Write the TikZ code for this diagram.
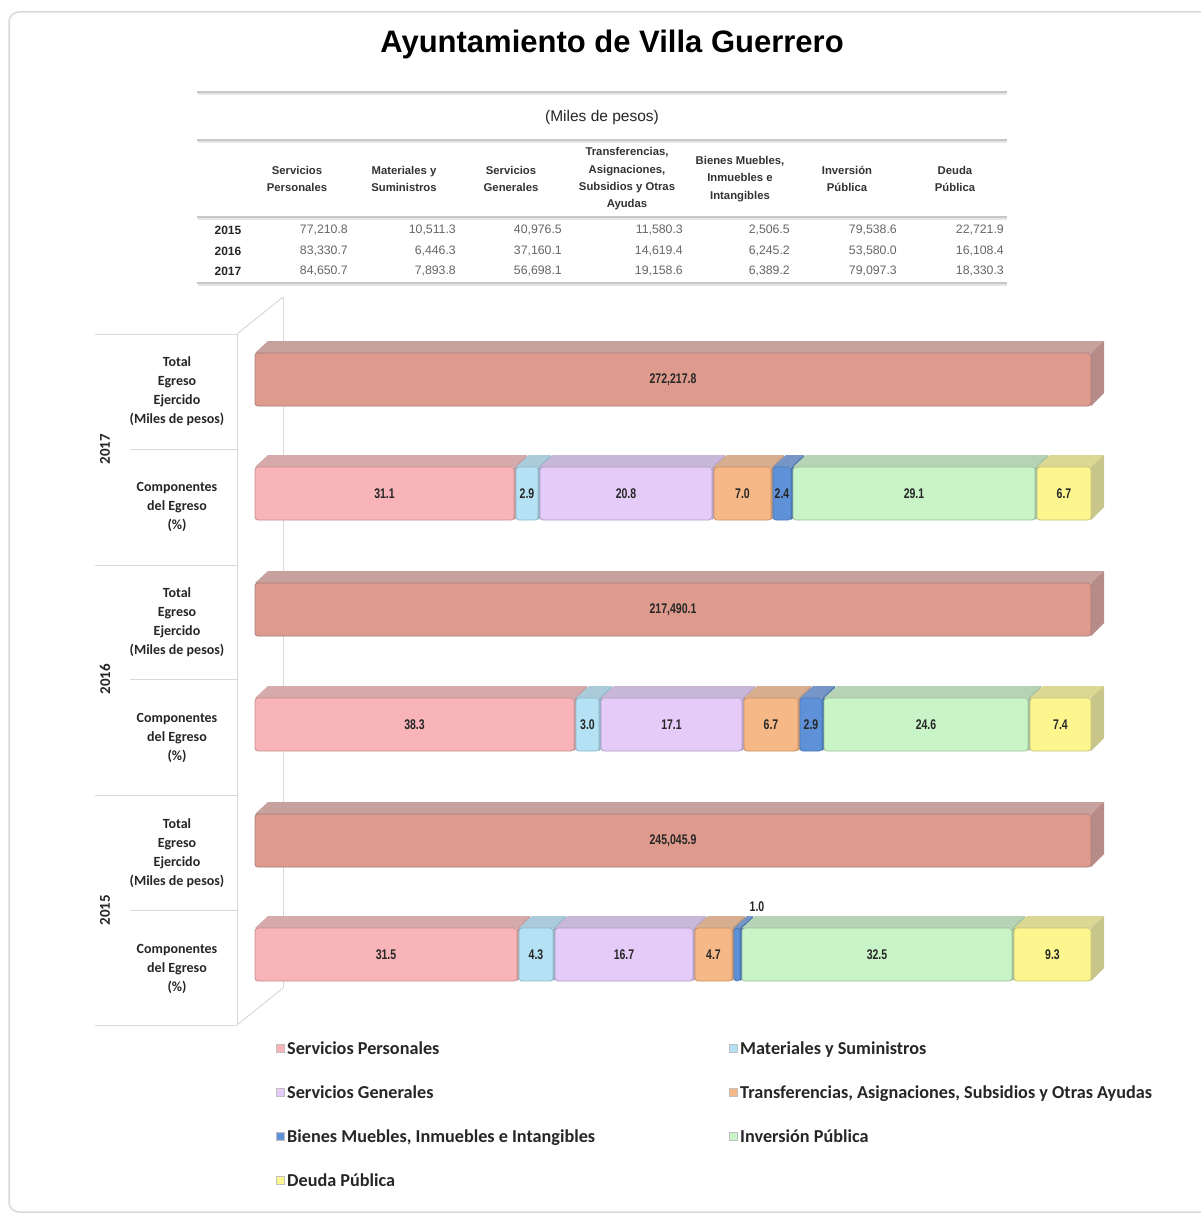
\documentclass[tikz,border=0pt]{standalone}
\usepackage{fontspec}
\setmainfont{Liberation Sans}
\newfontfamily\carl{Carlito}
\newfontfamily\narrowb[FakeStretch=0.75]{Liberation Sans}
\definecolor{totf}{HTML}{DE9B8D}\definecolor{tott}{HTML}{C6A19E}\definecolor{tots}{HTML}{B68B88}\definecolor{totb}{HTML}{A87C78}
\definecolor{spf}{HTML}{F8B4B8}\definecolor{spt}{HTML}{D6AAAB}\definecolor{sps}{HTML}{C69C9E}\definecolor{spb}{HTML}{C49092}
\definecolor{msf}{HTML}{B4E2F4}\definecolor{mst}{HTML}{A9CBDA}\definecolor{mss}{HTML}{94B8C8}\definecolor{msb}{HTML}{8FB6C6}
\definecolor{sgf}{HTML}{E5CBF8}\definecolor{sgt}{HTML}{C8B7D8}\definecolor{sgs}{HTML}{B8A6C8}\definecolor{sgb}{HTML}{B09BC4}
\definecolor{trf}{HTML}{F6B886}\definecolor{trt}{HTML}{D8AE90}\definecolor{trs}{HTML}{C49A7C}\definecolor{trb}{HTML}{C99062}
\definecolor{bmf}{HTML}{5E91D8}\definecolor{bmt}{HTML}{7596C6}\definecolor{bms}{HTML}{4A76B0}\definecolor{bmb}{HTML}{4A78B8}
\definecolor{ipf}{HTML}{C9F4C7}\definecolor{ipt}{HTML}{B6D3B5}\definecolor{ips}{HTML}{A0BFA0}\definecolor{ipb}{HTML}{9DBF9B}
\definecolor{dpf}{HTML}{FDF68F}\definecolor{dpt}{HTML}{DBD894}\definecolor{dps}{HTML}{C8C58A}\definecolor{dpb}{HTML}{C7C27A}
\definecolor{gridc}{HTML}{D9D9D9}
\tikzset{
  barlabel/.style={font=\narrowb\bfseries\fontsize{14}{14}\selectfont, text=black!85, inner sep=0pt},
  thead/.style={font=\bfseries\fontsize{11.3}{17.3}\selectfont, text=black!80, align=center, inner sep=0pt},
  tval/.style={font=\fontsize{12.3}{12}\selectfont, text=black!60, anchor=east, inner sep=0pt},
  tyear/.style={font=\bfseries\fontsize{12}{12}\selectfont, text=black!85, inner sep=0pt},
  rowlab/.style={font=\carl\bfseries\fontsize{14}{19.2}\selectfont, text=black!85, align=center, inner sep=0pt},
  yearlab/.style={font=\carl\bfseries\fontsize{15}{15}\selectfont, text=black!85, rotate=90, inner sep=0pt},
  legtext/.style={font=\carl\bfseries\fontsize{18.2}{18.2}\selectfont, text=black!85, anchor=base west, inner sep=0pt},
  legmark/.style={minimum size=8pt, inner sep=0pt, draw=black!25, line width=0.4pt},
  gline/.style={draw=gridc, line width=1pt},
  tline/.style={draw=black!22, line width=1.6pt},
}
% #1 label shift, #2 name, #3 x1, #4 x2, #5 y top of front face, #6 colour prefix, #7 label
\newcommand\segbox[7][0,0]{%
  \fill[#6t] ({#3+1},#5) -- ({#3+14},{#5-12}) -- ({#4+12},{#5-12}) -- ({#4-1},#5) -- cycle;
  \fill[#6s] ({#4-1},#5) -- ({#4+12},{#5-12}) -- ({#4+12},{#5+40}) -- ({#4-1},{#5+53}) -- cycle;
  \draw[#6b, line width=0.8pt, fill=#6f, rounded corners=3pt] ({#3+1},#5) rectangle ({#4-1},{#5+53});
  \node[barlabel, shift={(#1)}] (#2) at ({(#3+#4)/2},{#5+27}) {#7};
}
\begin{document}
\begin{tikzpicture}[x=1pt,y=-1pt]
\useasboundingbox (0,0) rectangle (1200,1215);
\fill[white] (0,0) rectangle (1200,1215);
\draw[black!15, line width=1.5pt, rounded corners=10pt] (9,12) rectangle (1215,1212);

% title
\node[font=\bfseries\fontsize{31}{31}\selectfont, inner sep=0pt] (title) at (612,44) {Ayuntamiento de Villa Guerrero};

% table
\foreach \yy in {92,140,217,283} {
  \draw[black!10, line width=1.6pt] (198,\yy+2) -- (1007,\yy+2);
  \draw[tline] (197,\yy) -- (1007,\yy);
}
\node[font=\fontsize{15.5}{15.5}\selectfont, text=black!85, inner sep=0pt] (miles) at (602,117) {(Miles de pesos)};
\node[thead] (h1) at (297,179) {Servicios\\Personales};
\node[thead] (h2) at (404,179) {Materiales y\\Suministros};
\node[thead] (h3) at (511,179) {Servicios\\Generales};
\node[thead] (h4) at (627,179) {Transferencias,\\Asignaciones,\\Subsidios y Otras\\Ayudas};
\node[thead] (h5) at (740,179) {Bienes Muebles,\\Inmuebles e\\Intangibles};
\node[thead] (h6) at (847,179) {Inversión\\Pública};
\node[thead] (h7) at (955,179) {Deuda\\Pública};
\node[tyear] (y15) at (228,230) {2015};
\node[tyear] (y16) at (228,251) {2016};
\node[tyear] (y17) at (228,271) {2017};
\foreach \x/\a/\b/\c [count=\i] in {348/77{,}210.8/83{,}330.7/84{,}650.7, 456/10{,}511.3/6{,}446.3/7{,}893.8, 562/40{,}976.5/37{,}160.1/56{,}698.1, 683/11{,}580.3/14{,}619.4/19{,}158.6, 790/2{,}506.5/6{,}245.2/6{,}389.2, 897/79{,}538.6/53{,}580.0/79{,}097.3, 1004/22{,}721.9/16{,}108.4/18{,}330.3} {
  \node[tval] (v15-\i) at (\x,230) {\a};
  \node[tval] (v16-\i) at (\x,251) {\b};
  \node[tval] (v17-\i) at (\x,271) {\c};
}

% category panel
\draw[gline] (283,297) -- (283,988);
\draw[gline] (237,334) -- (237,1025);
\draw[gline] (237,334) -- (283,297);
\draw[gline] (237,1025) -- (283,988);
\foreach \yy in {334,565,795,1025} \draw[gline] (95,\yy) -- (237,\yy);
\foreach \yy in {449,679,910} \draw[gline] (130,\yy) -- (237,\yy);

\node[yearlab] (yr17) at (105,449) {2017};
\node[yearlab] (yr16) at (105,679) {2016};
\node[yearlab] (yr15) at (105,910) {2015};
\node[rowlab] (l17t) at (177,391) {Total\\Egreso\\Ejercido\\(Miles de pesos)};
\node[rowlab] (l17c) at (177,507) {Componentes\\del Egreso\\(\%)};
\node[rowlab] (l16t) at (177,622) {Total\\Egreso\\Ejercido\\(Miles de pesos)};
\node[rowlab] (l16c) at (177,738) {Componentes\\del Egreso\\(\%)};
\node[rowlab] (l15t) at (177,853) {Total\\Egreso\\Ejercido\\(Miles de pesos)};
\node[rowlab] (l15c) at (177,969) {Componentes\\del Egreso\\(\%)};

% bars 2017
\segbox{t17}{254}{1092}{353}{tot}{272,217.8}
\segbox{c17a}{254}{515}{467}{sp}{31.1}
\segbox{c17b}{515}{539}{467}{ms}{2.9}
\segbox{c17c}{539}{713}{467}{sg}{20.8}
\segbox{c17d}{713}{772}{467}{tr}{7.0}
\segbox{c17e}{772}{792}{467}{bm}{2.4}
\segbox{c17f}{792}{1036}{467}{ip}{29.1}
\segbox{c17g}{1036}{1092}{467}{dp}{6.7}
% bars 2016
\segbox{t16}{254}{1092}{583}{tot}{217,490.1}
\segbox{c16a}{254}{575}{698}{sp}{38.3}
\segbox{c16b}{575}{600}{698}{ms}{3.0}
\segbox{c16c}{600}{743}{698}{sg}{17.1}
\segbox{c16d}{743}{799}{698}{tr}{6.7}
\segbox{c16e}{799}{823}{698}{bm}{2.9}
\segbox{c16f}{823}{1029}{698}{ip}{24.6}
\segbox{c16g}{1029}{1092}{698}{dp}{7.4}
% bars 2015
\segbox{t15}{254}{1092}{814}{tot}{245,045.9}
\segbox{c15a}{254}{518}{928}{sp}{31.5}
\segbox{c15b}{518}{554}{928}{ms}{4.3}
\segbox{c15c}{554}{694}{928}{sg}{16.7}
\segbox{c15d}{694}{733}{928}{tr}{4.7}
\segbox[20,-48]{c15e}{733}{741}{928}{bm}{1.0}
\segbox{c15f}{741}{1013}{928}{ip}{32.5}
\segbox{c15g}{1013}{1092}{928}{dp}{9.3}

% legend
\node[legmark, fill=spf] (m1) at (280,1048) {};
\node[legtext] (g1) at (287,1054) {Servicios Personales};
\node[legmark, fill=msf] (m2) at (733,1048) {};
\node[legtext] (g2) at (740,1054) {Materiales y Suministros};
\node[legmark, fill=sgf] (m3) at (280,1092) {};
\node[legtext] (g3) at (287,1098) {Servicios Generales};
\node[legmark, fill=trf] (m4) at (733,1092) {};
\node[legtext] (g4) at (740,1098) {Transferencias, Asignaciones, Subsidios y Otras Ayudas};
\node[legmark, fill=bmf] (m5) at (280,1136) {};
\node[legtext] (g5) at (287,1142) {Bienes Muebles, Inmuebles e Intangibles};
\node[legmark, fill=ipf] (m6) at (733,1136) {};
\node[legtext] (g6) at (740,1142) {Inversión Pública};
\node[legmark, fill=dpf] (m7) at (280,1180) {};
\node[legtext] (g7) at (287,1186) {Deuda Pública};
\end{tikzpicture}
\end{document}
